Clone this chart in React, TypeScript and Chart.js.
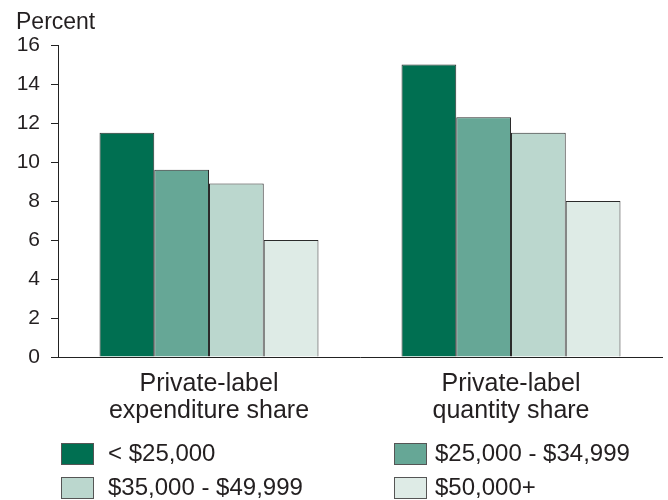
import React, { useEffect, useRef } from 'react';
import { Chart, registerables } from 'chart.js';

Chart.register(...registerables);

const categories: string[][] = [
  ['Private-label', 'expenditure share'],
  ['Private-label', 'quantity share'],
];
const seriesNames = ['< $25,000', '$25,000 - $34,999', '$35,000 - $49,999', '$50,000+'];
const under25k = [11.5, 15.0];
const from25to35k = [9.6, 12.3];
const from35to50k = [8.9, 11.5];
const over50k = [6.0, 8.0];
const seriesValues = [under25k, from25to35k, from35to50k, over50k];
const seriesColors = ['#006f51', '#66a796', '#bbd7ce', '#deebe6'];
const yMin = 0;
const yMax = 16;
const yStep = 2;
const yTitle = 'Percent';

const FONT = "'Liberation Sans', Arial, Helvetica, sans-serif";
const TEXT = '#231f20';

export default function App() {
  const ref = useRef<HTMLCanvasElement | null>(null);

  useEffect(() => {
    if (!ref.current) return;
    const chart = new Chart(ref.current, {
      type: 'bar',
      data: {
        labels: categories,
        datasets: seriesNames.map((name, i) => ({
          label: name,
          data: seriesValues[i],
          backgroundColor: seriesColors[i],
          borderColor: '#2b2b2b',
          borderWidth: 1,
          borderSkipped: 'bottom',
          categoryPercentage: 0.725,
          barPercentage: 1.0,
        })),
      },
      options: {
        responsive: false,
        animation: false,
        layout: { padding: { left: 16, right: 6, top: 0, bottom: 0 } },
        plugins: {
          legend: { display: false },
          tooltip: { enabled: false },
          title: {
            display: true,
            text: yTitle,
            align: 'start',
            color: TEXT,
            font: { family: FONT, size: 23, weight: 'normal', lineHeight: 1.2 },
            padding: { top: 9, bottom: 8.4 },
          },
        },
        scales: {
          x: {
            grid: { display: false, drawTicks: false },
            border: { display: true, color: '#222', width: 1 },
            ticks: {
              color: TEXT,
              padding: 13,
              maxRotation: 0,
              autoSkip: false,
              font: { family: FONT, size: 25, lineHeight: 1.1 },
            },
            afterFit: (s: any) => {
              s.height = 143;
            },
          },
          y: {
            min: yMin,
            max: yMax,
            grid: {
              display: true,
              drawOnChartArea: false,
              drawTicks: true,
              tickLength: 7,
              tickColor: '#222',
            },
            border: { display: true, color: '#222', width: 1 },
            ticks: {
              stepSize: yStep,
              color: TEXT,
              padding: 11,
              font: { family: FONT, size: 21 },
            },
            afterFit: (s: any) => {
              s.width = 42;
            },
          },
        },
      },
    });
    return () => chart.destroy();
  }, []);

  const colLeft = [61, 394];
  const textLeft = [108, 435];
  const rowTop = [443, 477];

  return (
    <div style={{ position: 'fixed', left: 0, top: 0, width: 668, height: 500, background: '#fff' }}>
      <canvas ref={ref} width={668} height={500} style={{ position: 'absolute', left: 0, top: 0 }} />
      {seriesNames.map((name, i) => {
        const r = Math.floor(i / 2);
        const c = i % 2;
        return (
          <React.Fragment key={name}>
            <div
              style={{
                position: 'absolute',
                left: colLeft[c],
                top: rowTop[r],
                width: 31,
                height: 20,
                background: seriesColors[i],
                border: '1px solid #555',
              }}
            />
            <div
              style={{
                position: 'absolute',
                left: textLeft[c],
                top: rowTop[r] - 1,
                height: 22,
                lineHeight: '22px',
                fontFamily: FONT,
                fontSize: 24,
                color: TEXT,
                whiteSpace: 'nowrap',
              }}
            >
              {name}
            </div>
          </React.Fragment>
        );
      })}
    </div>
  );
}
